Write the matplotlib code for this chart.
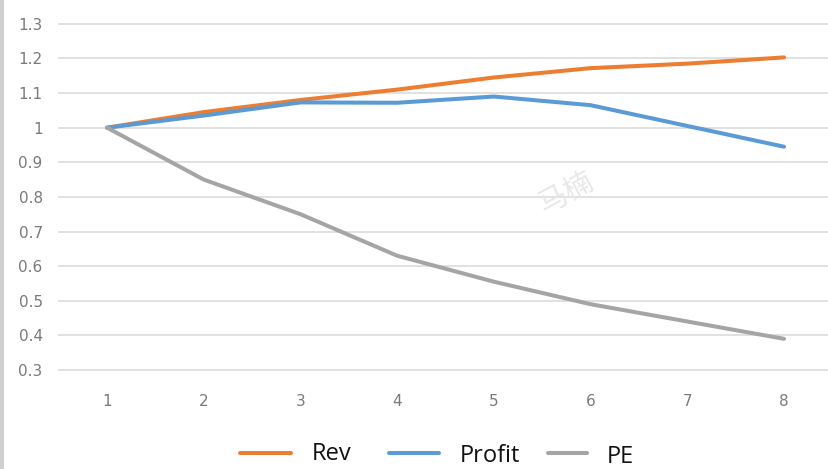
import matplotlib
matplotlib.use("Agg")
import matplotlib.pyplot as plt
from matplotlib.lines import Line2D

periods = [1, 2, 3, 4, 5, 6, 7, 8]
rev = [1.0, 1.045, 1.08, 1.11, 1.145, 1.172, 1.185, 1.203]
profit = [1.0, 1.035, 1.073, 1.072, 1.09, 1.065, 1.005, 0.945]
pe = [1.0, 0.85, 0.75, 0.63, 0.555, 0.49, 0.44, 0.39]
yticks = [0.3, 0.4, 0.5, 0.6, 0.7, 0.8, 0.9, 1.0, 1.1, 1.2, 1.3]
ytick_labels = ["0.3", "0.4", "0.5", "0.6", "0.7", "0.8", "0.9", "1", "1.1", "1.2", "1.3"]

series = [("Rev", rev, "#ED7D31"), ("Profit", profit, "#5B9BD5"), ("PE", pe, "#A5A5A5")]

W, H = 829, 469
fig = plt.figure(figsize=(W / 100, H / 100), dpi=100)
fig.patch.set_facecolor("white")

# axes box in pixels: left 58, right at the image edge, top 10, bottom 380
ax = fig.add_axes([58 / W, 1 - 380 / H, (W - 58) / W, 370 / H])
ax.set_xlim(0.493, 8.465)
ax.set_ylim(0.271, 1.34)

for name, vals, col in series:
    ax.plot(periods, vals, color=col, lw=2.9, solid_capstyle="round",
            solid_joinstyle="round", zorder=3)

ax.set_yticks(yticks)
ax.set_yticklabels(ytick_labels)
ax.set_xticks(periods)
ax.grid(axis="y", color="#D9D9D9", lw=1.1)
ax.set_axisbelow(True)
for s in ax.spines.values():
    s.set_visible(False)
ax.tick_params(length=0, colors="#7A7A7A", labelsize=11)
ax.tick_params(axis="y", pad=11)
ax.tick_params(axis="x", pad=10)

# faint watermark
ax.text(5.75, 0.81, "马楠", family=["Noto Sans CJK SC", "DejaVu Sans"],
        fontsize=21, color="#E8E8E8", rotation=28, ha="center", va="center", zorder=1)

# legend along the bottom: line start/end, text x, text baseline (pixels)
legend_items = [(240, 291, 312, 460, "Rev"), (389, 439, 460, 462, "Profit"),
                (548, 587, 607, 463, "PE")]
for (x0, x1, tx, ty, name), (_, _, col) in zip(legend_items, series):
    fig.add_artist(Line2D([x0 / W, x1 / W], [1 - 453 / H, 1 - 453 / H],
                          color=col, lw=2.9, solid_capstyle="round"))
    fig.text(tx / W, 1 - ty / H, name, fontsize=17, color="#111111",
             family=["Open Sans", "DejaVu Sans"], ha="left", va="baseline")

# thin grey border down the left side
fig.add_artist(Line2D([2 / W, 2 / W], [0, 1], color="#D0D0D0", lw=3))

fig.savefig("out.png", dpi=100)
